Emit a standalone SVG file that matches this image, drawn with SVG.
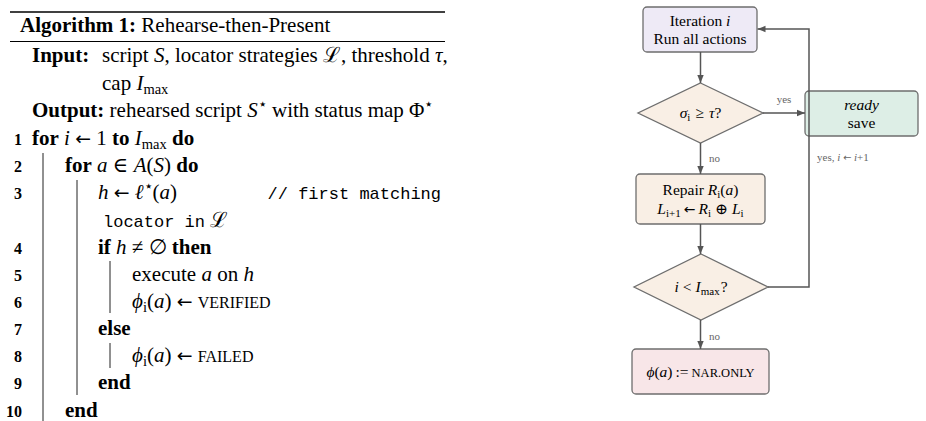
<svg xmlns="http://www.w3.org/2000/svg" width="926" height="421" viewBox="0 0 926 421">
<defs>
<style>
text{font-family:"Liberation Serif","DejaVu Serif",serif;fill:#000}
.alg{font-size:21px}
.b{font-weight:bold}
.i{font-style:italic}
.sub{font-size:14.5px}
.sc{font-size:16px}
.ar{font-family:"DejaVu Sans",sans-serif;font-size:0.9em}
.mono{font-family:"Liberation Mono","DejaVu Sans Mono",monospace;font-size:17px}
.ln{font-size:16px;font-weight:bold;text-anchor:end}
.bar{stroke:#222;stroke-width:1}
.fc{font-size:15.5px;text-anchor:middle}
.fsub{font-size:11px}
.lbl{font-size:11px;fill:#666}
.node{stroke:#6e6e6e;stroke-width:1.3}
.edge{fill:none;stroke:#555;stroke-width:1.5}
</style>
<marker id="ah" viewBox="0 0 10 10" refX="10" refY="5" markerWidth="8" markerHeight="8" markerUnits="userSpaceOnUse" orient="auto">
<path d="M0,1 L10,5 L0,9 Z" fill="#555"/>
</marker>
</defs>

<g id="algorithm">
<line x1="10" y1="12" x2="445" y2="12" stroke="#000" stroke-width="1.4"/>
<line x1="10" y1="41.5" x2="445" y2="41.5" stroke="#000" stroke-width="1"/>
<text class="alg" x="20" y="32"><tspan class="b">Algorithm 1:</tspan> Rehearse-then-Present</text>
<text class="alg" x="32" y="62"><tspan class="b">Input:</tspan></text>
<text class="alg" x="102" y="62">script <tspan class="i">S</tspan>, locator strategies ℒ, threshold <tspan class="i">τ</tspan>,</text>
<text class="alg" x="102" y="89.5">cap <tspan class="i">I</tspan><tspan class="sub" dy="4">max</tspan></text>
<text class="alg" x="32" y="117"><tspan class="b">Output:</tspan> rehearsed script <tspan class="i">S</tspan><tspan class="sub" dy="-8">⋆</tspan><tspan dy="8"> with status map Φ</tspan><tspan class="sub" dy="-8">⋆</tspan></text>

<text class="ln" x="22" y="145">1</text>
<text class="ln" x="22" y="172.2">2</text>
<text class="ln" x="22" y="199.3">3</text>
<text class="ln" x="22" y="253.6">4</text>
<text class="ln" x="22" y="280.7">5</text>
<text class="ln" x="22" y="307.9">6</text>
<text class="ln" x="22" y="335">7</text>
<text class="ln" x="22" y="362.2">8</text>
<text class="ln" x="22" y="389.3">9</text>
<text class="ln" x="22" y="416.5">10</text>

<line class="bar" x1="43" y1="153" x2="43" y2="421"/>
<line class="bar" x1="77" y1="180" x2="77" y2="395"/>
<line class="bar" x1="110" y1="261" x2="110" y2="313"/>
<line class="bar" x1="110" y1="343" x2="110" y2="368"/>

<text class="alg" x="32" y="145"><tspan class="b">for</tspan> <tspan class="i">i</tspan> <tspan class="ar">←</tspan> 1 <tspan class="b">to</tspan> <tspan class="i">I</tspan><tspan class="sub" dy="4">max</tspan><tspan dy="-4"> </tspan><tspan class="b">do</tspan></text>
<text class="alg" x="65" y="172.2"><tspan class="b">for</tspan> <tspan class="i">a</tspan> ∈ <tspan class="i">A</tspan>(<tspan class="i">S</tspan>) <tspan class="b">do</tspan></text>
<text class="alg" x="98" y="199.3"><tspan class="i">h</tspan> <tspan class="ar">←</tspan> <tspan class="i">ℓ</tspan><tspan class="sub" dy="-8">⋆</tspan><tspan dy="8">(</tspan><tspan class="i">a</tspan>)</text>
<text class="mono" x="441" y="199.3" text-anchor="end">// first matching</text>
<text class="alg" x="103" y="226.5"><tspan class="mono">locator in</tspan> ℒ</text>
<text class="alg" x="98" y="253.6"><tspan class="b">if</tspan> <tspan class="i">h</tspan> ≠ ∅ <tspan class="b">then</tspan></text>
<text class="alg" x="132" y="280.7">execute <tspan class="i">a</tspan> on <tspan class="i">h</tspan></text>
<text class="alg" x="132" y="307.9"><tspan class="i">ϕ</tspan><tspan class="sub" dy="4">i</tspan><tspan dy="-4">(</tspan><tspan class="i">a</tspan>) <tspan class="ar">←</tspan> <tspan class="sc">VERIFIED</tspan></text>
<text class="alg b" x="98" y="335">else</text>
<text class="alg" x="132" y="362.2"><tspan class="i">ϕ</tspan><tspan class="sub" dy="4">i</tspan><tspan dy="-4">(</tspan><tspan class="i">a</tspan>) <tspan class="ar">←</tspan> <tspan class="sc">FAILED</tspan></text>
<text class="alg b" x="98" y="389.3">end</text>
<text class="alg b" x="65" y="416.5">end</text>
</g>

<g id="n-iteration">
<rect class="node" x="643" y="7" width="114" height="45" rx="4" fill="#EEEAF6"/>
<text class="fc" x="700" y="26">Iteration <tspan class="i">i</tspan></text>
<text class="fc" x="700" y="44">Run all actions</text>
</g>

<g id="n-check">
<polygon class="node" points="700.5,83 763,113 700.5,143 638,113" fill="#F9EFE5"/>
<text class="fc" x="700.5" y="118"><tspan class="i">σ</tspan><tspan class="fsub" dy="3">i</tspan><tspan dy="-3" dx="5">≥</tspan><tspan class="i" dx="5">τ</tspan>?</text>
</g>

<g id="n-ready">
<rect class="node" x="805" y="91" width="113" height="45" rx="4" fill="#DDEEE6"/>
<text class="fc i" x="861.5" y="110">ready</text>
<text class="fc" x="861.5" y="128">save</text>
</g>

<g id="n-repair">
<rect class="node" x="636" y="174" width="129" height="50" rx="4" fill="#F9EFE5"/>
<text class="fc" x="700.5" y="195">Repair <tspan class="i">R</tspan><tspan class="fsub" dy="3">i</tspan><tspan dy="-3">(</tspan><tspan class="i">a</tspan>)</text>
<text class="fc" x="700.5" y="214"><tspan class="i">L</tspan><tspan class="fsub" dy="3">i+1</tspan><tspan dy="-3" dx="3" class="ar">←</tspan><tspan class="i" dx="3">R</tspan><tspan class="fsub" dy="3">i</tspan><tspan dy="-3" dx="4">⊕</tspan><tspan class="i" dx="4">L</tspan><tspan class="fsub" dy="3">i</tspan></text>
</g>

<g id="n-cap">
<polygon class="node" points="701,254 768,287 701,320 634,287" fill="#F9EFE5"/>
<text class="fc" x="701" y="292"><tspan class="i">i</tspan><tspan dx="4">&lt;</tspan><tspan class="i" dx="4">I</tspan><tspan class="fsub" dy="3">max</tspan><tspan dy="-3" dx="1">?</tspan></text>
</g>

<g id="n-nar">
<rect class="node" x="632" y="349" width="137" height="45" rx="4" fill="#F8E6E8"/>
<text class="fc" x="700.5" y="377"><tspan class="i">ϕ</tspan>(<tspan class="i">a</tspan>)<tspan dx="3">:=</tspan><tspan dx="3" font-size="12.5">NAR.ONLY</tspan></text>
</g>

<g id="connectors">
<line class="edge" x1="700.5" y1="52" x2="700.5" y2="83" marker-end="url(#ah)"/>
<line class="edge" x1="763" y1="113" x2="805" y2="113" marker-end="url(#ah)"/>
<text class="lbl" x="784" y="103" text-anchor="middle">yes</text>
<line class="edge" x1="700.5" y1="143" x2="700.5" y2="174" marker-end="url(#ah)"/>
<text class="lbl" x="709" y="162">no</text>
<line class="edge" x1="700.5" y1="224" x2="700.5" y2="254" marker-end="url(#ah)"/>
<line class="edge" x1="700.5" y1="320" x2="700.5" y2="349" marker-end="url(#ah)"/>
<text class="lbl" x="709" y="340">no</text>
<polyline class="edge" points="768,287 809,287 809,29 757.5,29" marker-end="url(#ah)"/>
<text class="lbl" x="817" y="161">yes, <tspan font-style="italic">i</tspan> <tspan class="ar">←</tspan> <tspan font-style="italic">i</tspan>+1</text>
</g>
</svg>
